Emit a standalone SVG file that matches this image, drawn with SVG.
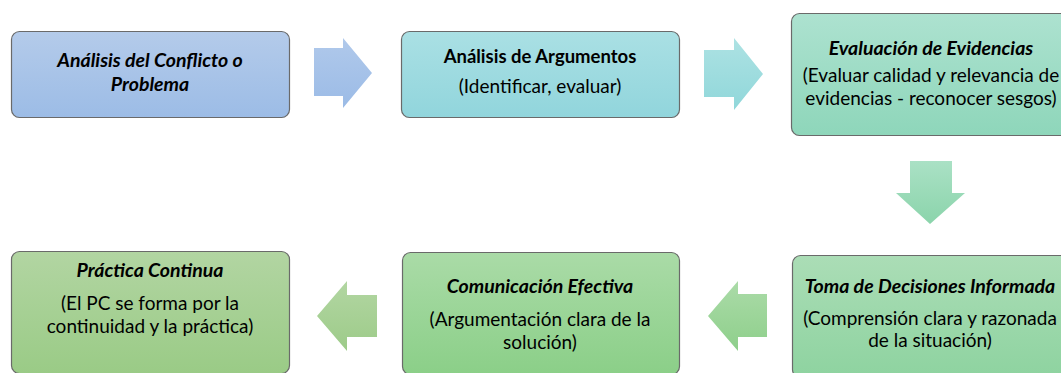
<svg xmlns="http://www.w3.org/2000/svg" width="1061" height="373" viewBox="0 0 1061 373">
<defs>
<linearGradient id="gBlue" x1="0" y1="0" x2="0" y2="1"><stop offset="0" stop-color="#b4cbea"/><stop offset="1" stop-color="#9cbce6"/></linearGradient>
<linearGradient id="gTeal" x1="0" y1="0" x2="0" y2="1"><stop offset="0" stop-color="#aae0e4"/><stop offset="1" stop-color="#91d5dc"/></linearGradient>
<linearGradient id="gMint" x1="0" y1="0" x2="0" y2="1"><stop offset="0" stop-color="#ade2d0"/><stop offset="1" stop-color="#8ed6ba"/></linearGradient>
<linearGradient id="gGreen1" x1="0" y1="0" x2="0" y2="1"><stop offset="0" stop-color="#abddb6"/><stop offset="1" stop-color="#8ed3a0"/></linearGradient>
<linearGradient id="gGreen2" x1="0" y1="0" x2="0" y2="1"><stop offset="0" stop-color="#aadba7"/><stop offset="1" stop-color="#8bcf88"/></linearGradient>
<linearGradient id="gGreen3" x1="0" y1="0" x2="0" y2="1"><stop offset="0" stop-color="#b2d5a2"/><stop offset="1" stop-color="#9acb86"/></linearGradient>
<linearGradient id="aBlue" x1="0" y1="0" x2="0" y2="1"><stop offset="0" stop-color="#b0c9eb"/><stop offset="1" stop-color="#9bbbe6"/></linearGradient>
<linearGradient id="aTeal" x1="0" y1="0" x2="0" y2="1"><stop offset="0" stop-color="#ade2e3"/><stop offset="1" stop-color="#90d7da"/></linearGradient>
<linearGradient id="aMint" x1="0" y1="0" x2="0" y2="1"><stop offset="0" stop-color="#aae1c5"/><stop offset="1" stop-color="#8bd4ab"/></linearGradient>
<linearGradient id="aGreen1" x1="0" y1="0" x2="0" y2="1"><stop offset="0" stop-color="#abdba8"/><stop offset="1" stop-color="#8ecf8b"/></linearGradient>
<linearGradient id="aGreen2" x1="0" y1="0" x2="0" y2="1"><stop offset="0" stop-color="#b2d6a2"/><stop offset="1" stop-color="#9dcb89"/></linearGradient>
</defs>
<style>
.box{stroke:#6a6a6a;stroke-width:1.2}
text{font-family:Lato,"Open Sans","Liberation Sans",sans-serif;font-size:19px;fill:#000;text-anchor:middle}
.t{font-weight:bold;font-size:18.5px}
.ti{font-weight:bold;font-style:italic;font-size:19.5px}
</style>
<g id="connectors">
<polygon points="314,48 343,48 343,38 372,73 343,108 343,96 314,96" fill="url(#aBlue)"/>
<polygon points="704,50 734,50 734,38 763,74 734,110 734,97 704,97" fill="url(#aTeal)"/>
<polygon points="910,161 952,161 952,193 965,193 930,224 896,193 910,193" fill="url(#aMint)"/>
<polygon points="767,294 738,294 738,281 708,316 738,351 738,337 767,337" fill="url(#aGreen1)"/>
<polygon points="377,295 347,295 347,281 317,316 347,351 347,337 377,337" fill="url(#aGreen2)"/>
</g>
<g id="node1">
<rect class="box" x="11.5" y="31.5" width="278" height="86" rx="8" fill="url(#gBlue)"/>
<text class="ti" x="150" y="67">Análisis del Conflicto o</text>
<text class="ti" x="150" y="91">Problema</text>
</g>
<g id="node2">
<rect class="box" x="401.5" y="31.5" width="278" height="86" rx="8" fill="url(#gTeal)"/>
<text class="t" x="540" y="63">Análisis de Argumentos</text>
<text x="540" y="93">(Identificar, evaluar)</text>
</g>
<g id="node3">
<rect class="box" x="791.5" y="13.5" width="280" height="122" rx="8" fill="url(#gMint)"/>
<text class="ti" x="931" y="55">Evaluación de Evidencias</text>
<text x="931" y="82">(Evaluar calidad y relevancia de</text>
<text x="931" y="105">evidencias - reconocer sesgos)</text>
</g>
<g id="node4">
<rect class="box" x="792.5" y="255.5" width="280" height="122" rx="8" fill="url(#gGreen1)"/>
<text class="ti" x="930" y="293">Toma de Decisiones Informada</text>
<text x="930" y="325">(Comprensión clara y razonada</text>
<text x="930" y="347">de la situación)</text>
</g>
<g id="node5">
<rect class="box" x="402.5" y="252.5" width="277" height="122" rx="8" fill="url(#gGreen2)"/>
<text class="ti" x="540" y="293">Comunicación Efectiva</text>
<text x="540" y="326">(Argumentación clara de la</text>
<text x="540" y="349">solución)</text>
</g>
<g id="node6">
<rect class="box" x="11.5" y="251.5" width="278" height="122" rx="8" fill="url(#gGreen3)"/>
<text class="ti" x="150" y="277">Práctica Continua</text>
<text x="150" y="310">(El PC se forma por la</text>
<text x="150" y="333">continuidad y la práctica)</text>
</g>
</svg>
